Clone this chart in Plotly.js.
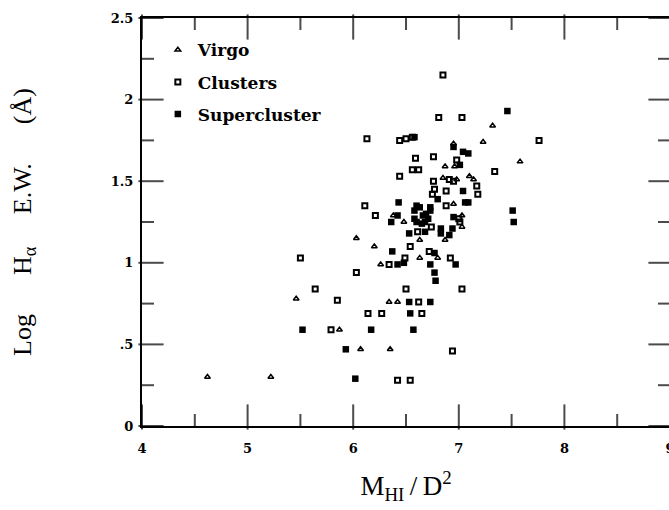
<!DOCTYPE html>
<html>
<head>
<meta charset="utf-8">
<script src="https://cdn.plot.ly/plotly-3.0.1.min.js"></script>
<style>
  html, body { margin: 0; padding: 0; background: #fff; overflow: hidden; }
  #chart { width: 675px; height: 510px; }
</style>
</head>
<body>
<div id="chart"></div>
<script>
// Virgo galaxies
const virgoX = [4.62, 5.22, 5.46, 5.87, 6.07, 6.03, 6.20, 6.26, 6.35, 6.34, 6.42, 6.38, 6.48, 6.63, 6.63,
                6.80, 6.87, 7.03, 7.03, 6.95, 6.85, 6.98, 6.87, 6.96, 6.95, 7.10, 7.14, 7.23, 7.32, 7.58];
const virgoY = [0.30, 0.30, 0.78, 0.59, 0.47, 1.15, 1.10, 0.99, 0.47, 0.76, 0.76, 1.29, 1.25, 1.14, 1.03,
                1.03, 1.14, 1.22, 1.29, 1.36, 1.52, 1.51, 1.59, 1.59, 1.73, 1.53, 1.51, 1.74, 1.84, 1.62];

// Cluster galaxies
const clustersX = [5.50, 5.64, 5.85, 5.79, 6.03, 6.11, 6.21, 6.14, 6.13, 6.27, 6.34, 6.42, 6.54, 6.49, 6.50,
                   6.62, 6.65, 6.54, 6.72, 6.92, 7.03, 6.94, 6.61, 6.74, 7.01, 7.00, 6.88, 6.77, 6.75, 6.88,
                   7.18, 7.17, 6.76, 6.91, 6.95, 6.44, 6.56, 6.62, 7.34, 6.59, 6.76, 6.98, 6.44, 6.50, 6.56,
                   6.81, 7.03, 6.85, 7.76];
const clustersY = [1.03, 0.84, 0.77, 0.59, 0.94, 1.35, 1.29, 0.69, 1.76, 0.69, 0.99, 0.28, 0.28, 1.03, 0.84,
                   0.76, 0.69, 1.10, 1.07, 1.03, 0.84, 0.46, 1.19, 1.22, 1.25, 1.27, 1.35, 1.45, 1.42, 1.44,
                   1.42, 1.47, 1.50, 1.51, 1.50, 1.53, 1.57, 1.57, 1.56, 1.64, 1.65, 1.63, 1.75, 1.76, 1.77,
                   1.89, 1.89, 2.15, 1.75];

// Supercluster galaxies
const superX = [5.52, 5.93, 6.02, 6.17, 6.42, 6.48, 6.37, 6.53, 6.73, 6.54, 6.57, 6.77, 6.78, 6.73, 6.97,
                6.77, 6.53, 6.68, 6.83, 6.83, 6.94, 6.91, 6.36, 6.42, 6.58, 6.60, 6.65, 6.68, 6.71, 6.66,
                6.69, 6.73, 6.63, 6.58, 6.95, 6.43, 6.60, 6.73, 6.80, 7.04, 7.06, 7.09, 7.01, 7.04, 7.09,
                6.58, 6.95, 7.46, 7.51, 7.52, 6.67, 7.03];
const superY = [0.59, 0.47, 0.29, 0.59, 0.99, 1.00, 1.07, 0.76, 0.76, 0.69, 0.59, 0.94, 0.89, 0.99, 0.99,
                1.06, 1.18, 1.19, 1.21, 1.18, 1.21, 1.17, 1.25, 1.29, 1.27, 1.25, 1.24, 1.25, 1.27, 1.29,
                1.30, 1.32, 1.34, 1.32, 1.28, 1.37, 1.35, 1.34, 1.39, 1.44, 1.37, 1.37, 1.60, 1.68, 1.67,
                1.77, 1.71, 1.93, 1.32, 1.25, -0.01, -0.01];

// Axis ranges, major/minor steps and label rewrites
const xRange = [4, 9];
const yRange = [0, 2.5];
const xMajor = 1, xMinor = 0.5;
const yMajor = 0.5, yMinor = 0.25;
const yLabelAlias = { '0.5': '.5' };

const ink = '#000';
const W = 675, H = 510;
const M = { l: 142, r: 5, t: 18, b: 84 };
const tickFont = { family: 'DejaVu Serif', size: 13, color: ink, weight: 'bold' };
const nb = n => '\u00A0'.repeat(n);

// Inward tick marks on all four sides of the frame, drawn as line-shaped markers
// sitting half their length inside the frame (long at major steps, short at minor steps)
function frameTickTrace() {
  const majorLen = 18, minorLen = 10;
  const xPerPx = (xRange[1] - xRange[0]) / (W - M.l - M.r);
  const yPerPx = (yRange[1] - yRange[0]) / (H - M.t - M.b);
  const xs = [], ys = [], sizes = [], symbols = [];
  const nx = Math.round((xRange[1] - xRange[0]) / xMinor);
  const xEvery = Math.round(xMajor / xMinor);
  for (let i = 0; i <= nx; i++) {
    const v = xRange[0] + i * xMinor;
    const len = i % xEvery === 0 ? majorLen : minorLen;
    const half = len / 2 * yPerPx;
    xs.push(v, v);
    ys.push(yRange[0] + half, yRange[1] - half);
    sizes.push(len, len);
    symbols.push('line-ns', 'line-ns');
  }
  const ny = Math.round((yRange[1] - yRange[0]) / yMinor);
  const yEvery = Math.round(yMajor / yMinor);
  for (let i = 0; i <= ny; i++) {
    const v = yRange[0] + i * yMinor;
    const len = i % yEvery === 0 ? majorLen : minorLen;
    const half = len / 2 * xPerPx;
    xs.push(xRange[0] + half, xRange[1] - half);
    ys.push(v, v);
    sizes.push(len, len);
    symbols.push('line-ew', 'line-ew');
  }
  return { x: xs, y: ys, type: 'scatter', mode: 'markers', showlegend: false, hoverinfo: 'skip',
           cliponaxis: false,
           marker: { symbol: symbols, size: sizes, color: ink, line: { color: ink, width: 2 } } };
}

const traces = [
  frameTickTrace(),
  {
    x: virgoX, y: virgoY, name: 'Virgo', type: 'scatter', mode: 'markers', legendgroup: 'a',
    marker: { symbol: 'triangle-up-open', size: 5, color: ink, line: { color: ink, width: 1.5 } }
  },
  {
    x: clustersX, y: clustersY, name: 'Clusters', type: 'scatter', mode: 'markers', legendgroup: 'b',
    marker: { symbol: 'square-open', size: 5, color: ink, line: { color: ink, width: 2 } }
  },
  {
    x: superX, y: superY, name: 'Supercluster', type: 'scatter', mode: 'markers', legendgroup: 'c',
    marker: { symbol: 'square', size: 6.5, color: ink, line: { width: 0 } }
  }
];

function axis(range, major) {
  return {
    range: range, tickmode: 'linear', tick0: range[0], dtick: major,
    showline: true, linecolor: ink, linewidth: 2, mirror: true, ticks: '',
    showgrid: false, zeroline: false, tickfont: tickFont, fixedrange: true
  };
}

const layout = {
  width: W, height: H,
  margin: M,
  showlegend: true,
  legend: {
    x: 0.03, y: 0.965, xanchor: 'left', yanchor: 'top',
    bgcolor: 'rgba(0,0,0,0)', borderwidth: 0,
    traceorder: 'grouped', tracegroupgap: 7,
    font: { family: 'DejaVu Serif', size: 17, color: ink, weight: 'bold' }
  },
  xaxis: Object.assign(axis(xRange, xMajor), {
    ticklabelstandoff: 9,
    title: { text: 'M<sub>HI</sub>\u2009/\u2009D<sup>2</sup>', font: { family: 'Liberation Serif', size: 27, color: ink }, standoff: 22 }
  }),
  yaxis: Object.assign(axis(yRange, yMajor), {
    labelalias: yLabelAlias,
    ticklabelstandoff: 4,
    title: { text: 'Log' + nb(6) + 'H<sub>\u03B1</sub>' + nb(5) + 'E.W.' + nb(6) + '(\u00C5)',
             font: { family: 'Liberation Serif', size: 26, color: ink }, standoff: 72 }
  })
};

Plotly.newPlot('chart', traces, layout, { displayModeBar: false });
</script>
</body>
</html>
